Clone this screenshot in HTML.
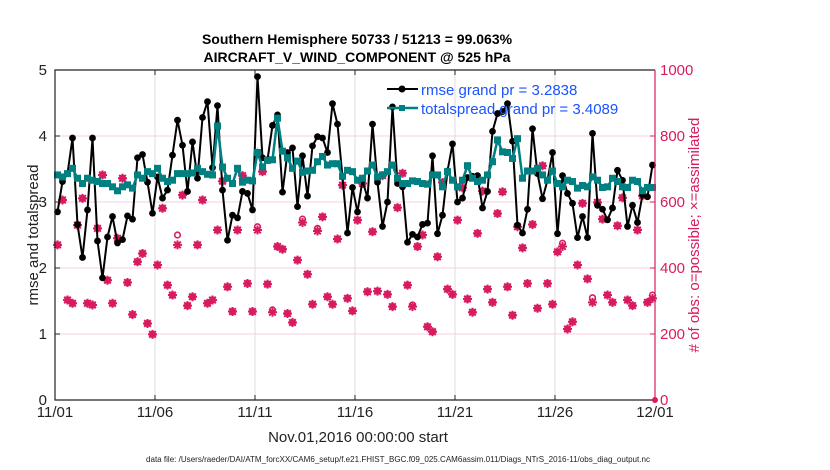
<!DOCTYPE html>
<html><head><meta charset="utf-8"><style>
body{margin:0;background:#fff;}
svg{display:block;font-family:"Liberation Sans",Arial,sans-serif;}
</style></head><body>
<svg id="chart" width="830" height="470" viewBox="0 0 830 470">
<rect width="830" height="470" fill="#fff"/>
<g id="grid"></g>
<g id="series"></g>
<g id="axes"></g>
<text x="357" y="44" text-anchor="middle" font-size="14" font-weight="bold">Southern Hemisphere 50733 / 51213 = 99.063%</text>
<text x="357" y="62" text-anchor="middle" font-size="14" font-weight="bold">AIRCRAFT_V_WIND_COMPONENT @ 525 hPa</text>
<text x="358" y="442" text-anchor="middle" font-size="15" fill="#222">Nov.01,2016 00:00:00 start</text>
<text x="398" y="462" text-anchor="middle" font-size="8" textLength="504" lengthAdjust="spacingAndGlyphs" fill="#222">data file: /Users/raeder/DAI/ATM_forcXX/CAM6_setup/f.e21.FHIST_BGC.f09_025.CAM6assim.011/Diags_NTrS_2016-11/obs_diag_output.nc</text>
<text transform="translate(38,235) rotate(-90)" text-anchor="middle" font-size="15" fill="#222">rmse and totalspread</text>
<text transform="translate(699,235) rotate(-90)" text-anchor="middle" font-size="15" fill="#d81b60"># of obs: o=possible; ×=assimilated</text>
<g>
<line x1="387" y1="89" x2="418" y2="89" stroke="#000" stroke-width="2"/>
<circle cx="402" cy="89" r="3.5" fill="#000"/>
<text x="421" y="95" font-size="15" fill="#1a53ff">rmse grand pr = 3.2838</text>
<line x1="387" y1="108" x2="418" y2="108" stroke="#008080" stroke-width="2.5"/>
<rect x="399" y="105" width="6" height="6" fill="#008080"/>
<text x="421" y="114" font-size="15" fill="#1a53ff">totalspread grand pr = 3.4089</text>
</g>
</svg>
<script>
const xTickLabels = ["11/01","11/06","11/11","11/16","11/21","11/26","12/01"];
const yLeftTicks = [0,1,2,3,4,5];
const yRightTicks = [0,200,400,600,800,1000];
const rmse = [2.85,3.31,3.43,3.97,2.66,2.16,2.88,3.97,2.41,1.85,2.47,2.78,2.38,2.43,2.79,2.74,3.67,3.72,3.3,2.83,3.38,3.06,3.18,3.71,4.24,3.86,3.16,3.91,3.36,4.28,
4.52,3.52,4.46,3.18,2.42,2.8,2.76,3.16,3.13,2.88,4.9,3.67,3.64,4.16,4.32,3.15,3.75,3.82,2.93,3.7,3.09,3.85,3.99,3.97,3.75,4.49,4.18,3.38,2.53,3.22,
2.85,3.33,3.06,4.18,3.3,2.63,3.0,4.44,3.28,3.23,2.39,2.51,2.47,2.66,2.68,3.7,2.52,2.8,3.47,3.88,3.0,3.06,3.37,3.39,3.4,2.91,3.16,4.07,4.34,4.37,
4.49,3.92,2.65,2.53,2.89,4.11,3.43,3.05,3.33,3.75,2.52,3.4,3.13,2.98,2.46,2.78,2.46,4.04,2.95,2.89,2.73,2.91,3.48,3.33,2.63,2.95,2.69,3.11,3.08,3.56];
const spread = [3.41,3.38,3.43,3.51,3.36,3.28,3.36,3.33,3.31,3.28,3.28,3.23,3.17,3.23,3.26,3.21,3.41,3.36,3.46,3.43,3.51,3.36,3.31,3.33,3.43,3.43,3.43,3.44,3.51,3.46,
3.42,3.41,4.15,3.53,3.36,3.28,3.51,3.3,3.33,3.32,3.75,3.53,3.63,3.64,4.27,3.77,3.67,3.51,3.62,3.45,3.47,3.48,3.61,3.69,3.56,3.58,3.58,3.39,3.48,3.46,
3.33,3.36,3.47,3.56,3.38,3.41,3.46,3.56,3.36,3.28,3.28,3.32,3.31,3.28,3.27,3.41,3.41,3.23,3.46,3.33,3.23,3.33,3.55,3.36,3.31,3.33,3.41,3.61,3.94,3.76,
3.75,3.66,3.96,3.36,3.47,3.47,3.51,3.41,3.33,3.47,3.28,3.23,3.33,3.31,3.21,3.25,3.23,3.38,3.33,3.22,3.23,3.36,3.31,3.23,3.22,3.33,3.31,3.17,3.22,3.22];
const obsAssim = [470,606,303,293,530,611,293,288,520,682,363,293,490,672,356,259,419,444,232,199,409,581,348,318,470,621,286,313,470,606,
293,303,515,663,343,268,515,680,353,268,515,692,351,266,465,457,262,235,424,538,381,290,512,555,313,290,488,651,308,270,
545,656,328,510,330,680,320,283,583,687,348,283,465,500,222,207,434,659,336,320,545,643,306,266,505,633,336,296,565,631,
343,257,525,461,353,532,278,710,353,290,449,465,215,237,409,596,367,296,599,548,318,296,528,613,303,286,515,619,296,308];
const obsPoss = [470,606,303,293,530,611,293,288,520,682,363,293,490,672,356,259,419,444,232,199,409,581,348,318,500,621,286,313,470,606,
293,303,515,663,343,268,515,680,353,268,525,692,351,273,465,457,262,235,424,548,381,290,520,555,313,290,488,651,308,270,
545,656,328,510,330,680,320,283,583,687,348,288,465,500,222,207,434,659,336,320,545,643,306,266,505,633,336,296,565,631,
343,257,525,461,353,532,278,710,353,290,449,475,215,237,409,596,367,310,599,548,318,296,528,613,303,286,515,619,296,318];

const NS="http://www.w3.org/2000/svg";
const X0=55,X1=655,Y0=400,Y1=70;
const xScale=i=>X0+(X1-X0)*(0.125+0.25*i)/30;
const xDay=d=>X0+(X1-X0)*d/30;
const yL=v=>Y0-(Y0-Y1)*v/5;
const yR=v=>Y0-(Y0-Y1)*v/1000;
function mk(tag,attrs,parent){const e=document.createElementNS(NS,tag);for(const k in attrs)e.setAttribute(k,attrs[k]);parent.appendChild(e);return e;}
const grid=document.getElementById('grid'),ser=document.getElementById('series'),ax=document.getElementById('axes');

xTickLabels.forEach((t,k)=>{
  const x=xDay(k*5);
  if(k>0&&k<xTickLabels.length-1){const g=mk('line',{x1:x,x2:x,y1:Y1,y2:Y0,stroke:'#dcdcdc','stroke-width':1},grid);
  
  }
  const tk=mk('line',{x1:x,x2:x,y1:Y0,y2:Y0-5,stroke:'#222'},ax);
  
  
  const tk2=mk('line',{x1:x,x2:x,y1:Y1,y2:Y1+5,stroke:'#222'},ax);
  
  
  const tx=mk('text',{x:x,y:Y0+17,'text-anchor':'middle','font-size':15,fill:'#222'},ax);tx.textContent=t;
  
  
});
yLeftTicks.forEach(v=>{
  const y=yL(v);
  if(v>0&&v<5){const g=mk('line',{x1:X0,x2:X1,y1:y,y2:y,stroke:'#f5cfe0','stroke-width':1},grid);
  
  }
  const tk=mk('line',{x1:X0,x2:X0+5,y1:y,y2:y,stroke:'#222'},ax);
  
  
  const tx=mk('text',{x:X0-8,y:y+5,'text-anchor':'end','font-size':15,fill:'#222'},ax);tx.textContent=v;
  
  
});
yRightTicks.forEach(v=>{
  const y=yR(v);
  const tk=mk('line',{x1:X1,x2:X1-5,y1:y,y2:y,stroke:'#d81b60'},ax);
  
  
  const tx=mk('text',{x:X1+5,y:y+5,'font-size':15,fill:'#d81b60'},ax);tx.textContent=v;
  
  
});
let fr=mk('path',{d:`M${X1},${Y1}H${X0}V${Y0}H${X1}`,fill:'none',stroke:'#222','stroke-width':1.2},ax);


fr=mk('line',{x1:X1,x2:X1,y1:Y1,y2:Y0,stroke:'#d81b60','stroke-width':1.2},ax);


const zm=mk('circle',{cx:X1,cy:Y0,r:3,fill:'#d81b60'},ax);



obsPoss.forEach((v,i)=>{
  const c=mk('circle',{cx:xScale(i),cy:yR(v),r:2.8,fill:'none',stroke:'#d81b60','stroke-width':1.6},ser);
  
  
});
obsAssim.forEach((v,i)=>{
  const x=xScale(i),y=yR(v);
  const p=mk('path',{d:`M${x-4.5},${y}H${x+4.5}M${x},${y-4.5}V${y+4.5}M${x-3.3},${y-3.3}L${x+3.3},${y+3.3}M${x-3.3},${y+3.3}L${x+3.3},${y-3.3}`,stroke:'#d81b60','stroke-width':2},ser);
  
  
});
let l=mk('polyline',{points:rmse.map((v,i)=>xScale(i)+','+yL(v)).join(' '),fill:'none',stroke:'#000','stroke-width':2},ser);


rmse.forEach((v,i)=>{
  const c=mk('circle',{cx:xScale(i),cy:yL(v),r:3.4,fill:'#000'},ser);
  
  
});
l=mk('polyline',{points:spread.map((v,i)=>xScale(i)+','+yL(v)).join(' '),fill:'none',stroke:'#008080','stroke-width':2.5},ser);


spread.forEach((v,i)=>{
  const r=mk('rect',{x:xScale(i)-3.5,y:yL(v)-3.5,width:7,height:7,fill:'#008080'},ser);
  
  
});
</script>
</body></html>
